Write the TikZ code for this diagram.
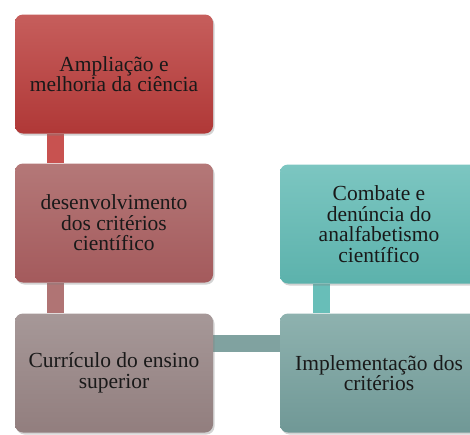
\documentclass[tikz,border=0pt]{standalone}
\usepackage{fontspec}
\setmainfont{Liberation Serif}
\usetikzlibrary{backgrounds,shadows}
\definecolor{redT}{RGB}{198,94,92}
\definecolor{redB}{RGB}{176,56,55}
\definecolor{roseT}{RGB}{180,120,120}
\definecolor{roseB}{RGB}{164,90,92}
\definecolor{greyT}{RGB}{166,152,152}
\definecolor{greyB}{RGB}{146,126,126}
\definecolor{tealT}{RGB}{124,198,193}
\definecolor{tealB}{RGB}{92,178,172}
\definecolor{sageT}{RGB}{142,178,175}
\definecolor{sageB}{RGB}{112,152,150}
\definecolor{connRed}{RGB}{200,82,80}
\definecolor{connRose}{RGB}{176,116,116}
\definecolor{connSage}{RGB}{128,162,160}
\definecolor{connTeal}{RGB}{104,190,184}
\tikzset{
  x=1pt,y=1pt,
  card/.style={rounded corners=8pt, minimum width=198pt, minimum height=119pt,
    align=center, inner sep=0pt, text=black!90,
    font=\fontsize{21.5}{20.5}\selectfont,
    drop shadow={shadow xshift=1.5pt, shadow yshift=-2pt, opacity=0.35}},
  bar/.style={line width=17pt},
}
\begin{document}
\begin{tikzpicture}
\useasboundingbox (0,0) rectangle (470,-434);
\clip (0,0) rectangle (470,-434);
\node[card, top color=redT, bottom color=redB] (a) at (114,-74) {Ampliação e\\melhoria da ciência};
\node[card, top color=roseT, bottom color=roseB] (b) at (114,-223) {desenvolvimento\\dos critérios\\científico};
\node[card, top color=greyT, bottom color=greyB] (c) at (114,-373) {Currículo do ensino\\superior};
\node[card, top color=tealT, bottom color=tealB] (d) at (379,-224) {Combate e\\denúncia do\\analfabetismo\\científico};
\node[card, top color=sageT, bottom color=sageB] (e) at (379,-373) {Implementação dos\\critérios};
\coordinate (xl) at (55.5,0);
\coordinate (xr) at (321,0);
\coordinate (yh) at (0,-343.5);
\begin{pgfonlayer}{background}
\draw[bar, connRed] (a.south -| xl) -- (b.north -| xl);
\draw[bar, connRose] (b.south -| xl) -- (c.north -| xl);
\draw[bar, connSage] (c.east |- yh) -- (e.west |- yh);
\draw[bar, connTeal] (d.south -| xr) -- (e.north -| xr);
\end{pgfonlayer}
\end{tikzpicture}
\end{document}
